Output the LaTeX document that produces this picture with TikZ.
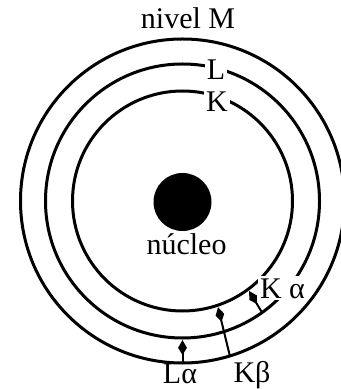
\documentclass[tikz,border=0pt]{standalone}
\usepackage{fontspec}
\setmainfont{Liberation Serif}
\usetikzlibrary{arrows.meta,calc}

\tikzset{
  shell/.style={line width=1.5pt},
  lbl/.style={fill=white,inner sep=1pt},
  jump/.style={line width=1pt,-{Kite[length=7.5pt,width=4.4pt,inset=3.6pt]}},
}

\begin{document}
\begin{tikzpicture}[x=0.5pt,y=0.5pt,font=\fontsize{15}{18}\selectfont]
  \useasboundingbox (-182.5,-188) rectangle (158.5,201);
  \clip (-182.5,-188) rectangle (158.5,201);
  \coordinate (O) at (0,0);
  % shells K, L, M
  \draw[shell] (O) circle (110);
  \draw[shell] (O) circle (137);
  \draw[shell] (O) circle (162);
  \node[circle,fill=black,inner sep=0pt,minimum size=29pt] (nucleus) at (0,-1) {};
  \node[anchor=base] (nuc) at (4,-54) {núcleo};
  \node[anchor=base] (M) at (5.5,172) {nivel M};
  \node[lbl] (L) at (33.5,131) {L};
  \node[lbl] (K) at (34.5,99) {K};
  \node[lbl,anchor=base] (Ka) at (100,-97) {K α};
  \node[anchor=base] (Kb) at (69.5,-181) {Kβ};
  \node[anchor=base] (La) at (-2.5,-182) {Lα};
  % transitions
  \coordinate (ka1) at (-54.5:137);
  \coordinate (ka2) at (-53.5:112);
  \coordinate (kb1) at (-73:162);
  \coordinate (kb2) at (-71.5:112);
  \coordinate (la1) at (-90:162);
  \coordinate (la2) at (-90:139);
  \draw[jump] (ka1) -- (ka2);
  \draw[jump] (kb1) -- (kb2);
  \draw[jump] (la1) -- (la2);
\end{tikzpicture}
\end{document}
